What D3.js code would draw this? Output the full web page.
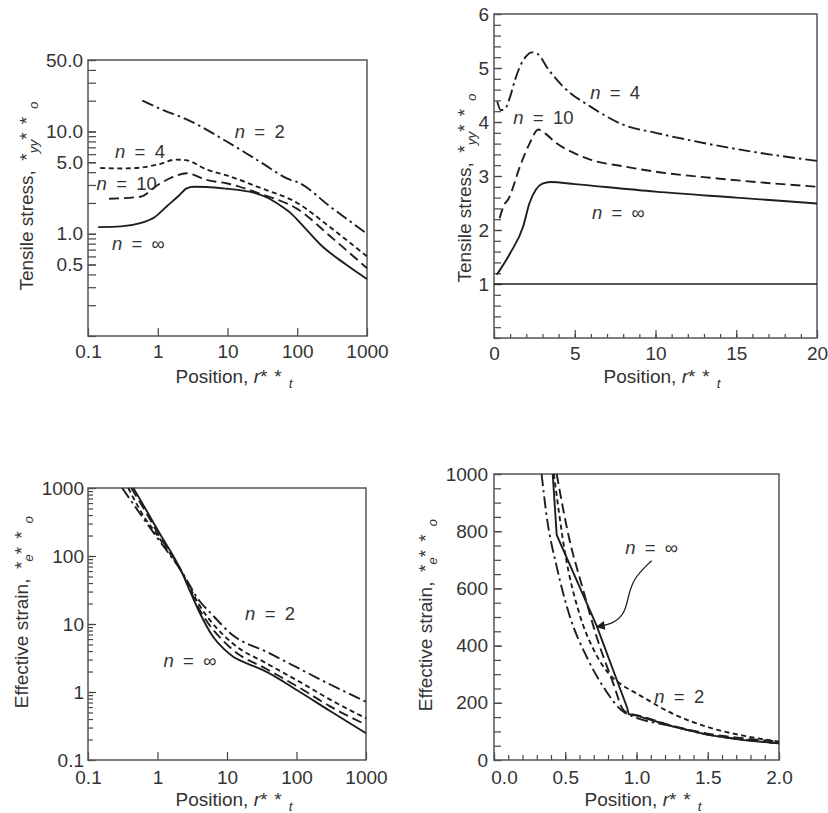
<!DOCTYPE html>
<html>
<head>
<meta charset="utf-8">
<script src="https://cdn.jsdelivr.net/npm/d3@7"></script>
<style>
body { margin: 0; background: #fff; }
svg { font-family: "Liberation Sans", Arial, Helvetica, sans-serif; }
</style>
</head>
<body>
<div id="chart-area"></div>
<script>
/*
*    four panels: tensile stress and effective strain vs position
*/

// ---- panel 1: tensile stress, log-log ----
var stressLogDashDotX = [0.6, 1.2, 2.5, 10, 30, 80, 100, 300, 1000];
var stressLogDashDotY = [20, 16.2, 13.3, 7.9, 5.0, 3.36, 3.2, 1.83, 1.0];
var stressLogShortX = [0.15, 0.3, 0.5, 1, 1.8, 2.5, 5, 10, 30, 100, 300, 1000];
var stressLogShortY = [4.4, 4.35, 4.4, 4.75, 5.3, 5.25, 4.25, 3.7, 2.8, 2.0, 1.15, 0.6];
var stressLogLongX = [0.2, 0.56, 1, 1.6, 2.6, 5, 10, 30, 100, 300, 1000];
var stressLogLongY = [2.2, 2.3, 3.0, 3.55, 3.9, 3.36, 3.1, 2.45, 1.75, 0.94, 0.46];
var stressLogSolidX = [0.14, 0.3, 0.56, 0.9, 1.34, 2.0, 2.6, 3.3, 5, 10, 15, 25, 40, 60, 80, 120, 230, 500, 1000];
var stressLogSolidY = [1.16, 1.18, 1.27, 1.45, 1.85, 2.35, 2.78, 2.88, 2.86, 2.75, 2.67, 2.5, 2.2, 1.85, 1.6, 1.2, 0.75, 0.5, 0.36];

// ---- panel 2: tensile stress, linear ----
var stressLinDashDotX = [0.2, 0.42, 0.7, 1.0, 1.3, 1.6, 2.0, 2.35, 2.65, 3.4, 4.3, 6, 8, 10, 12, 16, 20];
var stressLinDashDotY = [4.38, 4.22, 4.25, 4.47, 4.78, 5.02, 5.22, 5.29, 5.27, 4.96, 4.65, 4.28, 3.95, 3.8, 3.67, 3.45, 3.28];
var stressLinLongX = [0.35, 0.6, 0.9, 1.6, 2.2, 2.75, 3.2, 3.9, 5, 6, 8, 10, 14, 20];
var stressLinLongY = [2.22, 2.45, 2.58, 3.17, 3.6, 3.86, 3.78, 3.6, 3.42, 3.3, 3.18, 3.08, 2.95, 2.8];
var stressLinSolidX = [0.17, 1.0, 1.8, 2.2, 2.6, 3.0, 3.5, 5, 10, 15, 20];
var stressLinSolidY = [1.17, 1.57, 2.06, 2.5, 2.75, 2.86, 2.89, 2.85, 2.71, 2.6, 2.49];
var stressRefLevel = 1;

// ---- panel 3: effective strain, log-log ----
var strainLogDashDotX = [0.31, 0.6, 1, 2.2, 4, 6, 12, 37, 110, 300, 1000];
var strainLogDashDotY = [1000, 380, 183, 60, 22, 14, 6.9, 3.9, 2.2, 1.3, 0.72];
var strainLogShortX = [0.38, 0.6, 1, 2.2, 4, 12, 37, 110, 300, 1000];
var strainLogShortY = [1000, 420, 200, 60, 19, 5.2, 2.64, 1.42, 0.78, 0.41];
var strainLogLongX = [0.42, 0.7, 1, 2.2, 4, 12, 37, 110, 300, 1000];
var strainLogLongY = [1000, 420, 220, 60, 16.5, 4.2, 2.18, 1.16, 0.62, 0.33];
var strainLogSolidX = [0.45, 0.7, 1, 2.2, 3, 4, 6.3, 9, 12.3, 20, 33, 112, 300, 1000];
var strainLogSolidY = [1000, 460, 243, 60, 29, 15, 6.5, 4.3, 3.3, 2.6, 2.1, 1.0, 0.53, 0.247];

// ---- panel 4: effective strain, linear ----
var strainLinDashDotX = [0.334, 0.37, 0.44, 0.533, 0.65, 0.767, 0.92, 1.26, 1.5, 1.75, 2.0];
var strainLinDashDotY = [1000, 851, 676, 501, 361, 256, 165, 117, 89, 71, 58];
var strainLinShortX = [0.42, 0.5, 0.6, 0.7, 0.8, 0.9, 1.0, 1.25, 1.5, 1.75, 2.0];
var strainLinShortY = [1000, 720, 510, 385, 305, 262, 233, 163, 115, 85, 64];
var strainLinLongX = [0.44, 0.52, 0.626, 0.72, 0.837, 0.907, 0.95, 1.0, 1.25, 1.5, 1.75, 2.0];
var strainLinLongY = [1000, 792, 594, 431, 268, 175, 162, 157, 120, 92, 76, 64];
var strainLinSolidX = [0.412, 0.44, 0.72, 0.935, 0.945, 1.0, 1.25, 1.5, 1.75, 2.0];
var strainLinSolidY = [1000, 787, 470, 182, 160, 155, 118, 88, 70, 58];
var arrowX = [1.106, 0.977, 0.942, 0.919, 0.837, 0.72];
var arrowY = [697, 635, 571, 513, 476, 466];

// ---- tick labels ----
var logXLabels = [0.1, 1, 10, 100, 1000];
var stressLogYLabels = [0.5, 1, 5, 10, 50];
var stressLinXLabels = [0, 5, 10, 15, 20];
var stressLinYLabels = [1, 2, 3, 4, 5, 6];
var strainLogYLabels = [0.1, 1, 10, 100, 1000];
var strainLinXLabels = [0, 0.5, 1, 1.5, 2];
var strainLinYLabels = [0, 200, 400, 600, 800, 1000];

var font = '"Liberation Sans", Arial, Helvetica, sans-serif';
var ink = "#1e1e1e";
var textInk = "#333";
var fs = 19;
var dashes = { solid: null, longDash: "10,5", shortDash: "5,3.5", dashDot: "12,4,2.5,4" };

var svg = d3.select("#chart-area").append("svg").attr("width", 828).attr("height", 813);

var defs = svg.append("defs");
defs.append("marker").attr("id", "arrow").attr("viewBox", "0 0 10 10")
    .attr("refX", 9).attr("refY", 5).attr("markerUnits", "userSpaceOnUse")
    .attr("markerWidth", 15).attr("markerHeight", 9).attr("orient", "auto")
  .append("path").attr("d", "M0,0 L10,5 L0,10 z").attr("fill", ink);

function logMinor(lo, hi) {
    var out = [];
    for (var e = Math.floor(Math.log10(lo)); e <= Math.ceil(Math.log10(hi)); e++) {
        for (var k = 1; k < 10; k++) {
            var v = +(k * Math.pow(10, e)).toPrecision(3);
            if (v >= lo * 0.999 && v <= hi * 1.001) out.push(v);
        }
    }
    return out;
}

function styleAxis(sel) {
    sel.select(".domain").remove();
    sel.attr("font-family", null).attr("font-size", null);
    sel.selectAll("line").attr("stroke", "#444").attr("stroke-width", 1.2);
    sel.selectAll("text").attr("font-size", fs).attr("fill", textInk).attr("font-family", font);
    return sel;
}

function panel(o) {
    var g = svg.append("g").attr("transform", "translate(" + o.left + "," + o.top + ")");
    var x = (o.xLog ? d3.scaleLog() : d3.scaleLinear()).domain(o.xDomain).range([0, o.width]);
    var y = (o.yLog ? d3.scaleLog() : d3.scaleLinear()).domain(o.yDomain).range([o.height, 0]);

    if (o.xMinor) {
        styleAxis(g.append("g").attr("transform", "translate(0," + o.height + ")")
            .call(d3.axisBottom(x).tickValues(o.xMinor).tickSize(-o.xMinorLen).tickFormat("")));
    }
    styleAxis(g.append("g").attr("class", "x axis").attr("transform", "translate(0," + o.height + ")")
        .call(d3.axisBottom(x).tickValues(o.xLabels).tickSize(-8).tickPadding(o.xPad).tickFormat(o.xFormat)));

    if (o.yMinor) {
        styleAxis(g.append("g")
            .call(d3.axisLeft(y).tickValues(o.yMinor).tickSize(-o.yMinorLen).tickFormat("")));
    }
    styleAxis(g.append("g")
        .call(d3.axisLeft(y).tickValues(o.yLabels).tickSize(-8).tickPadding(o.yPad).tickFormat(o.yFormat)));

    g.append("rect").attr("width", o.width).attr("height", o.height)
        .attr("fill", "none").attr("stroke", "#555").attr("stroke-width", 1.5);

    return { g: g, x: x, y: y };
}

function drawLine(p, xs, ys, style, curve) {
    var pts = xs.map(function(d, i) { return [d, ys[i]]; });
    p.g.append("path").datum(pts)
        .attr("fill", "none").attr("stroke", ink).attr("stroke-width", 1.9)
        .attr("stroke-dasharray", dashes[style])
        .attr("d", d3.line().x(function(d) { return p.x(d[0]); }).y(function(d) { return p.y(d[1]); })
            .curve(curve || d3.curveMonotoneX));
}

function nLabel(p, xv, yv, val) {
    var t = p.g.append("text").attr("x", p.x(xv)).attr("y", p.y(yv))
        .attr("text-anchor", "middle").attr("font-size", 18.5).attr("fill", textInk);
    t.append("tspan").attr("font-style", "italic").text("n");
    t.append("tspan").text("\u2002=\u2002" + val);
}

function addParts(t, parts) {
    var shifted = 0;
    parts.forEach(function(p) {
        var ts = t.append("tspan").text(p.t);
        var want = p.sub ? 5 : 0;
        if (want !== shifted) { ts.attr("dy", want - shifted); shifted = want; }
        if (p.sub) ts.attr("font-size", 13.5);
        if (p.it) ts.attr("font-style", "italic");
        if (p.ls) ts.attr("letter-spacing", p.ls);
    });
}

function yTitle(cx, cy, parts) {
    var t = svg.append("text").attr("transform", "translate(" + cx + "," + cy + ") rotate(-90)")
        .attr("text-anchor", "middle").attr("font-size", fs).attr("fill", textInk);
    addParts(t, parts);
}

function xTitle(cx, y) {
    var t = svg.append("text").attr("x", cx).attr("y", y)
        .attr("text-anchor", "middle").attr("font-size", fs).attr("fill", textInk);
    addParts(t, [{ t: "Position, " }, { t: "r", it: 1 }, { t: "**", ls: 7 }, { t: "t", sub: 1, it: 1 }]);
}

var stressParts = [{ t: "Tensile stress,\u2002*" }, { t: "yy", sub: 1, it: 1 }, { t: "**", ls: 8 }, { t: "o", sub: 1, it: 1 }];
var strainParts = [{ t: "Effective strain,\u2002*" }, { t: "e", sub: 1, it: 1 }, { t: "**", ls: 8 }, { t: "o", sub: 1, it: 1 }];

// ---- panel 1 ----
var p1 = panel({
    left: 88, top: 60, width: 279, height: 276,
    xLog: true, xDomain: [0.1, 1000], xLabels: logXLabels, xPad: 9, xFormat: function(d) { return d3.format("~g")(d); },
    yLog: true, yDomain: [0.1, 50], yLabels: stressLogYLabels, yPad: 5, yFormat: d3.format(".1f"),
    yMinor: logMinor(0.1, 50), yMinorLen: 8
});
drawLine(p1, stressLogDashDotX, stressLogDashDotY, "dashDot");
drawLine(p1, stressLogShortX, stressLogShortY, "shortDash");
drawLine(p1, stressLogLongX, stressLogLongY, "longDash");
drawLine(p1, stressLogSolidX, stressLogSolidY, "solid");
nLabel(p1, 29, 8.6, "2");
nLabel(p1, 0.557, 5.5, "4");
nLabel(p1, 0.359, 2.65, "10");
nLabel(p1, 0.526, 0.70, "\u221e");
yTitle(33, 196, stressParts);
xTitle(234, 383);

// ---- panel 2 ----
var p2 = panel({
    left: 494, top: 14, width: 323, height: 324,
    xLog: false, xDomain: [0, 20], xLabels: stressLinXLabels, xPad: 9, xFormat: d3.format("d"),
    xMinor: d3.range(0, 21, 1), xMinorLen: 4,
    yLog: false, yDomain: [0, 6], yLabels: stressLinYLabels, yPad: 5, yFormat: d3.format("d"),
    yMinor: d3.range(0, 6.01, 0.2), yMinorLen: 7
});
p2.g.append("line")
    .attr("x1", p2.x(p2.x.domain()[0])).attr("x2", p2.x(p2.x.domain()[1]))
    .attr("y1", p2.y(stressRefLevel)).attr("y2", p2.y(stressRefLevel))
    .attr("stroke", ink).attr("stroke-width", 1.3);
drawLine(p2, stressLinDashDotX, stressLinDashDotY, "dashDot");
drawLine(p2, stressLinLongX, stressLinLongY, "longDash");
drawLine(p2, stressLinSolidX, stressLinSolidY, "solid");
nLabel(p2, 7.5, 4.43, "4");
nLabel(p2, 3.06, 3.96, "10");
nLabel(p2, 7.7, 2.2, "\u221e");
yTitle(471, 188, stressParts);
xTitle(662, 383);

// ---- panel 3 ----
var p3 = panel({
    left: 88, top: 488, width: 278, height: 272,
    xLog: true, xDomain: [0.1, 1000], xLabels: logXLabels, xPad: 11, xFormat: function(d) { return d3.format("~g")(d); },
    yLog: true, yDomain: [0.1, 1000], yLabels: strainLogYLabels, yPad: 4, yFormat: function(d) { return d3.format("~g")(d); },
    yMinor: logMinor(0.1, 1000), yMinorLen: 5
});
drawLine(p3, strainLogDashDotX, strainLogDashDotY, "dashDot");
drawLine(p3, strainLogShortX, strainLogShortY, "shortDash");
drawLine(p3, strainLogLongX, strainLogLongY, "longDash");
drawLine(p3, strainLogSolidX, strainLogSolidY, "solid");
nLabel(p3, 41.6, 11.5, "2");
nLabel(p3, 2.93, 2.33, "\u221e");
yTitle(28, 612, strainParts);
xTitle(234, 806);

// ---- panel 4 ----
var p4 = panel({
    left: 494, top: 474, width: 285, height: 286,
    xLog: false, xDomain: [0, 2], xLabels: strainLinXLabels, xPad: 11, xFormat: d3.format(".1f"),
    xMinor: d3.range(0, 2.01, 0.1), xMinorLen: 5,
    yLog: false, yDomain: [0, 1000], yLabels: strainLinYLabels, yPad: 6, yFormat: d3.format("d"),
    yMinor: d3.range(0, 1001, 50), yMinorLen: 7
});
p4.g.select(".x.axis").selectAll("text").filter(function(d) { return d === 0; }).attr("dx", 10);
drawLine(p4, strainLinDashDotX, strainLinDashDotY, "dashDot");
drawLine(p4, strainLinShortX, strainLinShortY, "shortDash");
drawLine(p4, strainLinLongX, strainLinLongY, "longDash");
drawLine(p4, strainLinSolidX, strainLinSolidY, "solid", d3.curveLinear);
p4.g.append("path")
    .datum(arrowX.map(function(d, i) { return [d, arrowY[i]]; }))
    .attr("fill", "none").attr("stroke", ink).attr("stroke-width", 1.3)
    .attr("marker-end", "url(#arrow)")
    .attr("d", d3.line().x(function(d) { return p4.x(d[0]); }).y(function(d) { return p4.y(d[1]); }).curve(d3.curveBasis));
nLabel(p4, 1.106, 722, "\u221e");
nLabel(p4, 1.30, 199, "2");
yTitle(432, 615, strainParts);
xTitle(643, 806);
</script>
</body>
</html>
